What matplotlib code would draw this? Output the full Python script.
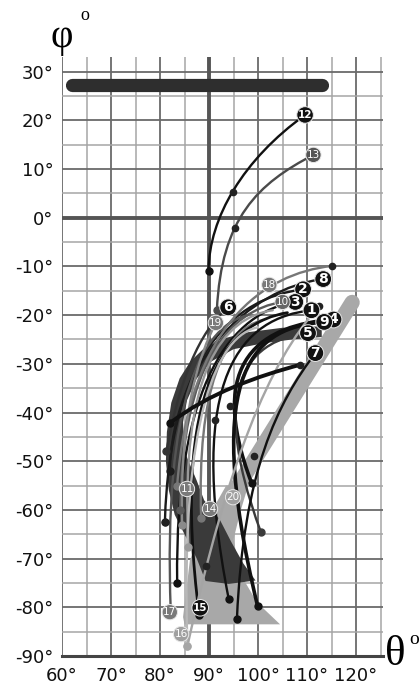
import numpy as np
import matplotlib
matplotlib.use("Agg")
import matplotlib.pyplot as plt
from matplotlib.path import Path
from matplotlib.patches import PathPatch, Polygon

# -----------------------------
# Data (theta, phi in degrees)
# -----------------------------
x_ticks = [60, 70, 80, 90, 100, 110, 120]
y_ticks = [30, 20, 10, 0, -10, -20, -30, -40, -50, -60, -70, -80, -90]

# top bar
bar_theta = [62.0, 113.0]
bar_phi = [27.2, 27.2]

# light gray band + foot
band_theta = [119.2, 93.5]
band_phi = [-17.4, -59.0]
foot_theta = [93.5, 89.0, 86.1, 84.7, 85.0, 104.5, 99.8, 96.3, 95.0, 96.5, 98.0]
foot_phi = [-55.0, -63.0, -70.3, -82.0, -83.5, -83.5, -79.0, -73.0, -66.0, -60.0, -55.0]

# dark crescent region
dark_theta = [113, 105, 98, 93, 89, 86.2, 84, 82.3, 81.4, 81.2, 81.8, 83, 85.5, 87.5, 89.3, 94, 99.5,
              97, 94.5, 92.2, 89, 87.5, 85, 84.7, 85.5, 87.5, 90.5, 95, 101, 107, 113]
dark_phi = [-22.3, -22.6, -23.5, -24.8, -26.8, -29.5, -33, -38, -44, -50, -56, -61, -66, -70, -74.6, -75.2, -74.5,
            -71, -66.5, -62, -58, -54, -48, -42, -37.5, -33, -29.5, -27, -25.8, -25, -24.5]

# trajectories: start, two bezier handles, end
traj_ids = [1, 2, 3, 4, 5, 6, 7, 8, 9, 10, 11, 12, 13, 14, 15, 16, 17, 18, 19, 20, 0]
traj_start = [(110.9, -19.0), (109.2, -14.7), (107.4, -17.3), (115.4, -20.9), (110.2, -23.7),
              (93.9, -18.4), (111.7, -27.8), (113.3, -12.6), (113.5, -21.4), (105.0, -17.3),
              (103.0, -19.0), (109.6, 21.1), (111.3, 12.9), (101.0, -21.0), (106.0, -19.5),
              (100.0, -22.5), (98.0, -20.0), (115.1, -9.9), (91.4, -21.6), (112.5, -18.1),
              (108.6, -30.2)]
traj_h1 = [(97, -20.5), (95, -16.5), (95, -19.5), (101, -22), (99, -25),
           (89.5, -22), (104, -38), (98, -14.5), (100, -22.5), (94, -19),
           (93, -20.5), (97, 12), (100, 7), (93, -23), (94, -21.5),
           (92, -24), (89, -22), (101, -11.5), (88, -28), (102, -30),
           (100, -32.5)]
traj_h2 = [(85, -32), (82, -28), (83, -33), (89, -29), (89, -33),
           (84.5, -30), (97, -52), (82.5, -30), (88, -30), (84.5, -30),
           (84, -31), (90, 0), (92.5, 0), (87.5, -35), (82, -34),
           (84, -40), (80.5, -36), (86, -22), (84, -40), (94, -50),
           (90, -36)]
traj_end = [(94.0, -78.2), (81.0, -62.4), (83.5, -75.0), (98.7, -54.5), (100.6, -64.6),
            (81.3, -48.0), (95.7, -82.3), (82.0, -52.0), (99.9, -79.7), (84.1, -60.0),
            (85.8, -67.6), (89.9, -10.9), (91.6, -19.0), (88.4, -61.7), (88.0, -81.6),
            (85.6, -87.9), (82.2, -81.0), (83.5, -55.0), (84.5, -63.0), (85.6, -87.9),
            (82.0, -42.2)]

# extra dots along paths
dot_theta = [94.9, 95.2, 99.1, 94.3, 91.2, 81.0, 89.4, 112.5, 115.1, 108.6]
dot_phi = [5.3, -2.1, -48.9, -38.7, -41.5, -62.4, -71.5, -18.1, -9.9, -30.2]

# number labels
label_ids = [1, 2, 3, 4, 5, 6, 7, 8, 9, 10, 11, 12, 13, 14, 15, 16, 17, 18, 19, 20]
label_theta = [110.9, 109.2, 107.6, 115.4, 110.2, 93.9, 111.7, 113.3, 113.5, 105.0,
               85.5, 109.6, 111.3, 90.2, 88.2, 84.3, 82.0, 102.3, 91.4, 94.9]
label_phi = [-19.0, -14.7, -17.3, -20.9, -23.7, -18.4, -27.8, -12.6, -21.4, -17.3,
             -55.7, 21.1, 12.9, -59.8, -80.1, -85.5, -81.0, -13.8, -21.6, -57.4]

# -----------------------------
# Styles
# -----------------------------
traj_colors = {1: "#111111", 2: "#1a1a1a", 3: "#111111", 4: "#111111", 5: "#3a3a3a",
               6: "#333333", 7: "#111111", 8: "#1c1c1c", 9: "#111111", 10: "#5a5a5a",
               11: "#999999", 12: "#111111", 13: "#4a4a4a", 14: "#777777", 15: "#111111",
               16: "#b8b8b8", 17: "#555555", 18: "#777777", 19: "#8a8a8a", 20: "#a5a5a5",
               0: "#111111"}
traj_lw = {4: 2.6, 9: 2.6, 0: 2.8, 15: 2.0}
dark_labels = [1, 2, 3, 4, 5, 6, 7, 8, 9, 12, 15]
label_face = {13: "#555555", 16: "#a0a0a0", 20: "#a0a0a0", 10: "#666666"}

# -----------------------------
# Figure
# -----------------------------
fig = plt.figure(figsize=(4.2, 6.86), dpi=100)
ax = fig.add_axes([62 / 420, 30 / 686, 321 / 420, 599 / 686])
ax.set_xlim(60, 125.5)
ax.set_ylim(-90, 33)

ax.set_xticks(x_ticks)
ax.set_xticklabels([f"{v}°" for v in x_ticks])
ax.set_yticks(y_ticks)
ax.set_yticklabels([f"{v}°" for v in y_ticks])
ax.set_xticks(np.arange(65, 126, 10), minor=True)
ax.set_yticks(np.arange(-85, 31, 10), minor=True)
ax.tick_params(which="both", length=0, labelsize=13, colors="#111111")
ax.tick_params(axis="x", pad=8)
ax.tick_params(axis="y", pad=6)
ax.grid(which="major", color="#6a6a6a", lw=1.3, zorder=0)
ax.grid(which="minor", color="#a5a5a5", lw=1.1, zorder=0)
ax.set_axisbelow(True)
for s in ["top", "right", "left"]:
    ax.spines[s].set_visible(False)
ax.spines["bottom"].set_color("#444444")
ax.spines["bottom"].set_linewidth(2.2)

ax.axvline(90, color="#555555", lw=2.8, zorder=1)
ax.axhline(0, color="#555555", lw=2.8, zorder=1)

# top bar
ax.plot(bar_theta, bar_phi, color="#2e2e2e", lw=9.5, solid_capstyle="round", zorder=2)

# light band
ax.plot(band_theta, band_phi, color="#a8a8a8", lw=11, solid_capstyle="round", zorder=2)
ax.add_patch(Polygon(list(zip(foot_theta, foot_phi)), closed=True, fc="#a8a8a8", ec="none", zorder=2))

# dark region
ax.add_patch(Polygon(list(zip(dark_theta, dark_phi)), closed=True, fc="#3a3a3a", ec="none", zorder=3))

# trajectories
codes = [Path.MOVETO, Path.CURVE4, Path.CURVE4, Path.CURVE4]
for tid, p0, p1, p2, p3 in zip(traj_ids, traj_start, traj_h1, traj_h2, traj_end):
    path = Path([p0, p1, p2, p3], codes)
    ax.add_patch(PathPatch(path, fc="none", ec=traj_colors[tid], lw=traj_lw.get(tid, 1.7),
                           capstyle="round", zorder=4))
    ax.plot(*p3, "o", color=traj_colors[tid], ms=5, zorder=5)

ax.plot(dot_theta, dot_phi, "o", color="#222222", ms=4.5, zorder=5)

# labels
for lid, lx, ly in zip(label_ids, label_theta, label_phi):
    if lid in dark_labels:
        fc, w = "#111111", "bold"
    else:
        fc, w = label_face.get(lid, "#7a7a7a"), "normal"
    ax.text(lx, ly, str(lid), ha="center", va="center", fontsize=10 if lid < 10 else 7.5,
            color="white", fontweight=w, zorder=7,
            bbox=dict(boxstyle="circle,pad=0.1", fc=fc, ec="#e8e8e8", lw=0.7))

# axis titles
fig.text(51 / 420, 1 - 38 / 686, "φ", fontsize=28, family="Liberation Serif", ha="left", va="center")
fig.text(80 / 420, 1 - 16 / 686, "o", fontsize=13, family="Liberation Serif", ha="left", va="center")
fig.text(385 / 420, 1 - 655 / 686, "θ", fontsize=31, family="Liberation Serif", ha="left", va="center")
fig.text(409 / 420, 1 - 639 / 686, "o", fontsize=14, family="Liberation Serif", ha="left", va="center")

fig.savefig("out.png", dpi=100)
